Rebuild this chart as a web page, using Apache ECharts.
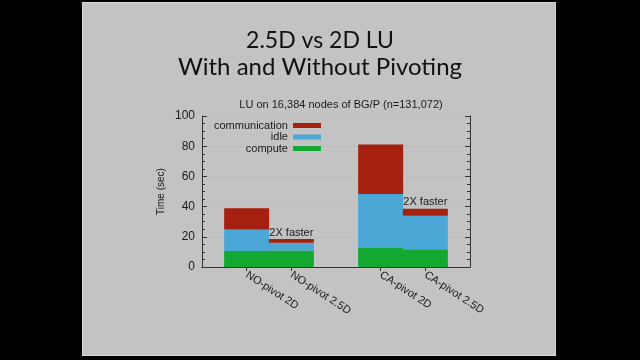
<!DOCTYPE html>
<html>
<head>
<meta charset="utf-8">
<script src="https://cdn.jsdelivr.net/npm/echarts@6/dist/echarts.min.js"></script>
<style>
  html, body { margin: 0; padding: 0; background: #000; }
  #slide { position: absolute; left: 82px; top: 2px; width: 474px; height: 354px; background: #c3c3c3; border: 1px solid #d6d6d6; box-sizing: border-box; }
  #chart { position: absolute; left: 0; top: 0; width: 640px; height: 360px; }
</style>
</head>
<body>
<div id="slide"></div>
<div id="chart"></div>
<script>
const slideTitle = ['2.5D vs 2D LU', 'With and Without Pivoting'];
const chartTitle = 'LU on 16,384 nodes of BG/P (n=131,072)';
const categories = ['', 'NO-pivot 2D', 'NO-pivot 2.5D', '', 'CA-pivot 2D', 'CA-pivot 2.5D', ''];
const compute = [null, 10.6, 11.0, null, 12.6, 11.7, null];
const idle = [null, 14.3, 5.1, null, 35.7, 22.3, null];
const communication = [null, 14.0, 2.4, null, 32.9, 4.6, null];
const annotations = [null, null, '2X faster', null, null, '2X faster', null];
const yTicks = { min: 0, max: 100, interval: 20 };

const chart = echarts.init(document.getElementById('chart'), null, { renderer: 'canvas' });
const txt = '#1a1a1a';
const axisLineStyle = { color: '#333', width: 1 };

const commData = communication.map((v, i) => annotations[i] ? {
  value: v,
  label: { show: true, position: 'top', distance: 1, formatter: annotations[i], color: txt, fontSize: 11, fontFamily: 'Liberation Sans' }
} : v);

chart.setOption({
  backgroundColor: 'transparent',
  animation: false,
  title: [
    { text: slideTitle[0], left: 'center', top: 24, textStyle: { fontFamily: 'Lato', fontSize: 23, fontWeight: 'normal', color: '#111' } },
    { text: slideTitle[1], left: 'center', top: 50, textStyle: { fontFamily: 'Lato', fontSize: 24, fontWeight: 'normal', color: '#111' } },
    { text: chartTitle, left: 336, textAlign: 'center', top: 94, textStyle: { fontFamily: 'Liberation Sans', fontSize: 11, fontWeight: 'normal', color: txt } }
  ],
  legend: {
    orient: 'vertical',
    left: 214,
    top: 120,
    align: 'right',
    itemWidth: 28,
    itemHeight: 5,
    itemGap: 0.5,
    padding: 0,
    icon: 'rect',
    data: ['communication', 'idle', 'compute'],
    textStyle: { fontFamily: 'Liberation Sans', fontSize: 11, lineHeight: 9.5, color: txt },
    selectedMode: false
  },
  grid: { left: 202, right: 170, top: 116, bottom: 93 },
  xAxis: [
    {
      type: 'category', data: categories, boundaryGap: false, position: 'bottom',
      axisLine: { lineStyle: axisLineStyle },
      axisTick: { inside: true, length: 4, lineStyle: axisLineStyle, interval: (i, v) => v !== '' },
      axisLabel: { rotate: -33, margin: 7, fontFamily: 'Liberation Sans', fontSize: 11, color: txt, interval: 0 },
      splitLine: { show: false }
    },
    {
      type: 'category', data: categories, boundaryGap: false, position: 'top',
      axisLine: { lineStyle: axisLineStyle },
      axisTick: { inside: true, length: 4, lineStyle: axisLineStyle, interval: (i, v) => v !== '' },
      axisLabel: { show: false },
      splitLine: { show: false }
    }
  ],
  yAxis: [
    {
      type: 'value', min: yTicks.min, max: yTicks.max, interval: yTicks.interval, position: 'left',
      name: 'Time (sec)', nameLocation: 'middle', nameGap: 36,
      nameTextStyle: { fontFamily: 'Liberation Sans', fontSize: 10, color: txt },
      axisLine: { show: true, lineStyle: axisLineStyle },
      axisTick: { show: true, inside: true, length: 5, lineStyle: axisLineStyle },
      minorTick: { show: true, splitNumber: 4, length: 3, lineStyle: axisLineStyle },
      axisLabel: { margin: 7, fontFamily: 'Liberation Sans', fontSize: 12, color: txt },
      splitLine: { show: true, lineStyle: { color: '#a8a8a8', type: [1, 3], width: 1 } }
    },
    {
      type: 'value', min: yTicks.min, max: yTicks.max, interval: yTicks.interval, position: 'right',
      axisLine: { show: true, lineStyle: axisLineStyle },
      axisTick: { show: true, inside: true, length: 5, lineStyle: axisLineStyle },
      minorTick: { show: true, splitNumber: 4, length: 3, lineStyle: axisLineStyle },
      axisLabel: { show: false },
      splitLine: { show: false }
    }
  ],
  series: [
    { name: 'compute', type: 'bar', stack: 't', data: compute, barWidth: 45, itemStyle: { color: '#12a832' } },
    { name: 'idle', type: 'bar', stack: 't', data: idle, barWidth: 45, itemStyle: { color: '#4aa7d6' } },
    { name: 'communication', type: 'bar', stack: 't', data: commData, barWidth: 45, itemStyle: { color: '#a5200f' } }
  ]
});
</script>
</body>
</html>
